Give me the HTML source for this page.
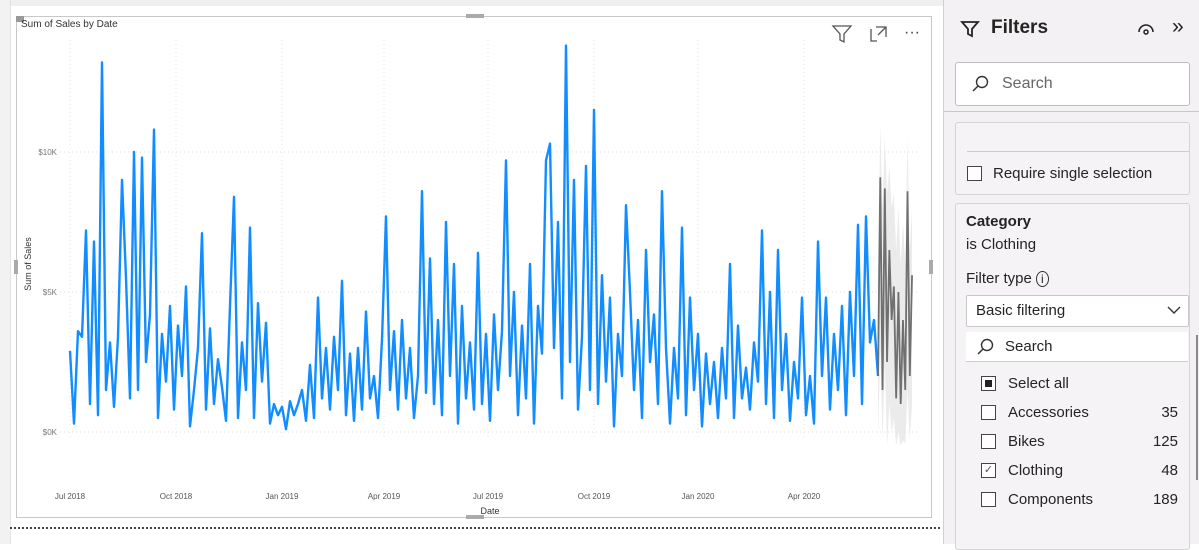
<!DOCTYPE html>
<html><head><meta charset="utf-8"><style>
body{margin:0;width:1199px;height:544px;overflow:hidden;background:#fff;font-family:"Segoe UI","Liberation Sans",sans-serif;position:relative}
.abs{position:absolute}
.pane{left:943px;top:0;width:256px;height:544px;background:#f4f1f4;border-left:1px solid #d0d0d0}
.card{background:#f6f3f6;border:1px solid #d6d3d6;border-radius:3px}
.cb{position:absolute;width:13px;height:13px;border:1px solid #444;background:#fff}
.lbl{position:absolute;font-size:15px;color:#252423}
.num{position:absolute;font-size:15px;color:#252423;right:11px}
</style></head><body>
<div class="abs" style="left:0;top:0;width:943px;height:6px;background:#f0f0f0"></div>
<div class="abs" style="left:0;top:0;width:10px;height:544px;background:#f3f2f3;border-right:1px solid #e3e3e3"></div>
<div class="abs" style="left:10px;top:527px;width:930px;border-top:2px dotted #444"></div>
<svg class="abs" style="left:0;top:0" width="943" height="544" id="chart">
<rect x="16.5" y="16.5" width="915" height="501" fill="none" stroke="#c8c8c8"/>
<rect x="16" y="16" width="8" height="6" fill="#999"/>
<rect x="466" y="14" width="18" height="4" fill="#aaa"/>
<rect x="466" y="515" width="18" height="4" fill="#aaa"/>
<rect x="14" y="260" width="4" height="14" fill="#aaa"/>
<rect x="929" y="260" width="4" height="14" fill="#aaa"/>
<text x="21" y="27" font-size="10" fill="#333" font-family="Liberation Sans, sans-serif">Sum of Sales by Date</text>
<g fill="none" stroke="#555" stroke-width="1.3"><path d="M833 26h18l-7 8v8l-4-2v-6z"/></g>
<g fill="none" stroke="#555" stroke-width="1.3"><path d="M871 29v12h6M876 27h10v10M878 35l8-8"/></g>
<text x="904" y="37" font-size="16" fill="#444">···</text>
<g id="grid"></g><g id="band"></g><g id="lines"></g>
<text x="490" y="514" font-size="9" text-anchor="middle" fill="#333" font-family="Liberation Sans, sans-serif">Date</text>
<text x="31" y="264" font-size="9" text-anchor="middle" fill="#333" font-family="Liberation Sans, sans-serif" transform="rotate(-90 31 264)">Sum of Sales</text>
</svg>

<div class="abs pane">
  <svg class="abs" style="left:16px;top:19px" width="20" height="20"><path d="M2 3h16l-6 7v7l-4-2v-5z" fill="none" stroke="#252423" stroke-width="1.8"/></svg>
  <div class="abs" style="left:47px;top:17px;font-size:19px;font-weight:bold;color:#252423">Filters</div>
  <svg class="abs" style="left:193px;top:22px" width="18" height="14"><path d="M2 10a7 7 0 0 1 14 0" fill="none" stroke="#252423" stroke-width="1.6"/><circle cx="9" cy="10" r="2" fill="none" stroke="#252423" stroke-width="1.5"/></svg>
  <div class="abs" style="left:228px;top:15px;font-size:21px;color:#252423">»</div>
  <div class="abs" style="left:11px;top:62px;width:233px;height:42px;background:#fff;border:1px solid #bdbdbd;border-radius:3px">
    <svg class="abs" style="left:15px;top:12px" width="18" height="18"><circle cx="11" cy="7" r="5.5" fill="none" stroke="#333" stroke-width="1.4"/><path d="M7 11l-5 5" stroke="#333" stroke-width="1.5"/></svg>
    <div class="abs" style="left:46px;top:12px;font-size:16px;color:#666">Search</div>
  </div>
  <div class="abs" style="left:0;top:111px;width:256px;border-top:1px solid #c8c8c8"></div>
  <div class="abs card" style="left:11px;top:122px;width:233px;height:71px">
    <div class="abs" style="left:11px;top:28px;width:222px;border-top:1px solid #ccc"></div>
    <div class="cb" style="left:11px;top:43px"></div>
    <div class="lbl" style="left:37px;top:42px">Require single selection</div>
  </div>
  <div class="abs card" style="left:11px;top:203px;width:233px;height:345px">
    <div class="abs" style="left:10px;top:9px;font-size:15px;font-weight:bold;color:#252423">Category</div>
    <div class="abs" style="left:10px;top:32px;font-size:15px;color:#252423">is Clothing</div>
    <div class="abs" style="left:10px;top:66px;font-size:15px;color:#252423">Filter type <span style="font-size:12px;border:1px solid #333;border-radius:50%;padding:0 4px">i</span></div>
    <div class="abs" style="left:10px;top:91px;width:221px;height:30px;background:#fff;border:1px solid #c8c8c8;border-radius:2px">
      <div class="abs" style="left:9px;top:6px;font-size:15px;color:#252423">Basic filtering</div>
      <svg class="abs" style="left:200px;top:10px" width="14" height="9"><path d="M1 1l6 6 6-6" fill="none" stroke="#333" stroke-width="1.4"/></svg>
    </div>
    <div class="abs" style="left:10px;top:128px;width:222px;height:29px;background:#fff;border-bottom:1px solid #ccc">
      <svg class="abs" style="left:10px;top:6px" width="18" height="18"><circle cx="11" cy="7" r="5.5" fill="none" stroke="#333" stroke-width="1.4"/><path d="M7 11l-5 5" stroke="#333" stroke-width="1.5"/></svg>
      <div class="abs" style="left:39px;top:6px;font-size:15px;color:#252423">Search</div>
    </div>
    <div class="cb" style="left:25px;top:172px"><div style="margin:3px;width:7px;height:7px;background:#222"></div></div>
    <div class="lbl" style="left:52px;top:171px">Select all</div>
    <div class="cb" style="left:25px;top:201px"></div>
    <div class="lbl" style="left:52px;top:200px">Accessories</div>
    <div class="num" style="top:200px">35</div>
    <div class="cb" style="left:25px;top:230px"></div>
    <div class="lbl" style="left:52px;top:229px">Bikes</div>
    <div class="num" style="top:229px">125</div>
    <div class="cb" style="left:25px;top:259px;font-size:11px;line-height:13px;text-align:center;color:#555">✓</div>
    <div class="lbl" style="left:52px;top:258px">Clothing</div>
    <div class="num" style="top:258px">48</div>
    <div class="cb" style="left:25px;top:288px"></div>
    <div class="lbl" style="left:52px;top:287px">Components</div>
    <div class="num" style="top:287px">189</div>
  </div>
  <div class="abs" style="left:252px;top:335px;width:2px;height:145px;background:#888"></div>
</div>

<script>
const sales=[2.9,0.3,3.6,3.4,7.2,1.0,6.8,0.6,13.2,1.5,
3.2,0.9,3.4,9.0,5.5,1.2,10.0,1.5,9.8,2.5,
4.2,10.8,0.5,3.5,1.8,4.5,0.8,3.8,2.0,5.2,
0.2,1.5,3.0,7.1,0.8,3.7,1.0,2.6,1.6,0.4,
4.5,8.4,0.5,3.2,1.5,7.3,0.5,4.6,1.8,3.9,
0.3,1.0,0.6,0.9,0.1,1.1,0.6,1.0,1.5,0.4,
2.4,0.5,4.8,1.2,3.0,0.8,3.4,1.5,5.4,0.6,
2.8,0.4,3.0,0.8,4.3,1.2,2.0,0.5,3.3,7.7,
1.5,3.6,0.8,4.0,1.2,3.0,0.5,2.0,8.6,1.4,
6.2,1.0,4.0,0.6,7.5,2.0,6.0,0.3,4.5,1.2,
3.2,0.8,6.4,1.0,3.5,0.4,4.2,1.5,3.6,9.7,
2.0,5.0,0.6,3.8,1.2,6.0,0.3,4.5,2.8,9.7,
10.3,3.0,7.5,1.2,13.8,2.5,9.0,0.8,3.4,9.5,
1.5,11.5,1.0,5.6,1.8,4.8,0.2,3.5,2.0,8.1,
5.0,1.5,4.0,0.5,6.5,2.5,4.2,1.0,8.6,3.0,
0.3,3.0,1.2,7.3,0.6,4.8,1.5,3.5,0.2,2.8,
1.0,2.5,0.5,3.0,1.2,6.0,0.5,3.8,1.2,2.3,
0.8,3.2,1.8,7.2,1.0,5.0,0.5,6.5,1.5,3.5,
0.4,2.5,1.2,4.8,0.6,2.0,0.3,6.8,2.0,4.8,
0.8,3.5,1.5,4.5,0.6,5.0,2.0,7.4,1.0,7.7,
3.2,4.0,2.0];
const forecast=[2.0,9.1,1.5,8.7,2.5,6.5,4.0,5.2,1.2,5.0,1.0,4.0,1.5,8.6,2.0,5.6];
const fUpper=[5.5,11.0,8.0,10.5,8.5,9.5,8.0,8.5,6.5,8.0,6.0,7.5,6.0,10.5,6.5,8.0];
const fLower=[-0.3,3.0,-0.3,2.5,-0.5,1.0,0.0,0.5,-0.5,0.0,-0.5,-0.3,-0.4,1.5,-0.3,1.0];
const yTicks=[0,5,10];
const yTickLabels=["$0K","$5K","$10K"];
const xTickIdx=[0,26.5,53,78.5,104.5,131,157,183.5];
const xTickLabels=["Jul 2018","Oct 2018","Jan 2019","Apr 2019","Jul 2019","Oct 2019","Jan 2020","Apr 2020"];

const NS="http://www.w3.org/2000/svg";
const x=i=>70+i*4;
const fx=i=>x(sales.length-1)+i*2.27;
const y=v=>432-v*28;
function mk(tag,attrs,parent){const e=document.createElementNS(NS,tag);for(const k in attrs)e.setAttribute(k,attrs[k]);document.getElementById(parent).appendChild(e);return e;}

yTicks.forEach((t,i)=>{
  const g=mk('line',{x1:60,x2:918,y1:y(t),y2:y(t),stroke:'#dcdcdc','stroke-dasharray':'1 3'},'grid');
  
  
  const l=mk('text',{x:57,y:y(t)+3,'font-size':8,'text-anchor':'end',fill:'#777','font-family':'Liberation Sans, sans-serif'},'grid');
  l.textContent=yTickLabels[i];
  
  
});
xTickIdx.forEach((t,i)=>{
  const g=mk('line',{x1:x(t),x2:x(t),y1:40,y2:440,stroke:'#e4e4e4','stroke-dasharray':'1 3'},'grid');
  
  
  const l=mk('text',{x:x(t),y:499,'font-size':8,'text-anchor':'middle',fill:'#555','font-family':'Liberation Sans, sans-serif'},'grid');
  l.textContent=xTickLabels[i];
  
  
});
let up=fUpper.map((v,i)=>fx(i)+','+y(v));
let lo=fLower.map((v,i)=>fx(i)+','+y(v)).reverse();
const band=mk('polygon',{points:up.concat(lo).join(' '),fill:'#dedede','fill-opacity':0.6},'band');


const line=mk('polyline',{points:sales.map((v,i)=>x(i)+','+y(v)).join(' '),fill:'none',stroke:'#118dff','stroke-width':2.4,'stroke-linejoin':'round'},'lines');


const fl=mk('polyline',{points:forecast.map((v,i)=>fx(i)+','+y(v)).join(' '),fill:'none',stroke:'#707070','stroke-width':1.8},'lines');


</script>
</body></html>
